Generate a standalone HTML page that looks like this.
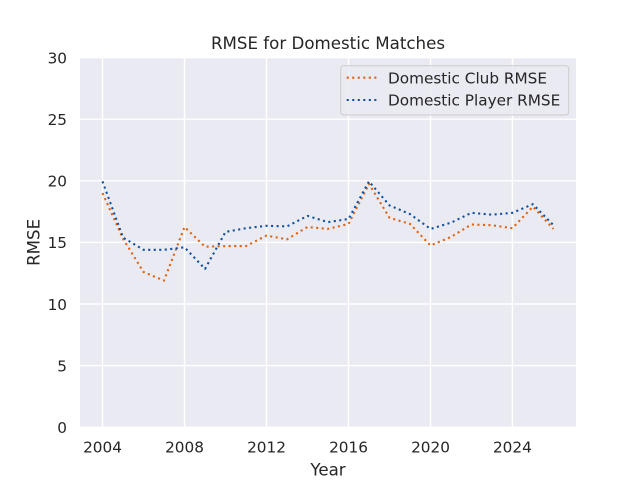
<!DOCTYPE html>
<html><head><meta charset="utf-8"><style>
html,body{margin:0;padding:0;background:#fff;}
svg{display:block;}
text{font-family:"DejaVu Sans","Liberation Sans",sans-serif;fill:#262626;}
</style></head><body>
<svg width="640" height="480" viewBox="0 0 640 480" xmlns="http://www.w3.org/2000/svg">
<rect x="0" y="0" width="640" height="480" fill="#ffffff"/>
<rect x="80" y="57.6" width="496" height="369.6" fill="#eaeaf2"/>
<g stroke="#ffffff" stroke-width="1.39">
<line x1="102.5" y1="57.6" x2="102.5" y2="427.2"/>
<line x1="184.5" y1="57.6" x2="184.5" y2="427.2"/>
<line x1="266.5" y1="57.6" x2="266.5" y2="427.2"/>
<line x1="348.5" y1="57.6" x2="348.5" y2="427.2"/>
<line x1="430.5" y1="57.6" x2="430.5" y2="427.2"/>
<line x1="512.4" y1="57.6" x2="512.4" y2="427.2"/>
<line x1="80" y1="427.2" x2="576" y2="427.2"/>
<line x1="80" y1="365.6" x2="576" y2="365.6"/>
<line x1="80" y1="304.0" x2="576" y2="304.0"/>
<line x1="80" y1="242.4" x2="576" y2="242.4"/>
<line x1="80" y1="180.8" x2="576" y2="180.8"/>
<line x1="80" y1="119.2" x2="576" y2="119.2"/>
<line x1="80" y1="57.6" x2="576" y2="57.6"/>
</g>
<g fill="none" stroke-width="2.08" stroke-dasharray="2.08 3.44" stroke-linejoin="round">
<polyline stroke="#e0620f" points="102.5,193.1 123.0,238.7 143.5,272.0 164.0,280.6 184.5,227.0 205.0,246.7 225.5,246.1 246.0,246.1 266.5,235.6 287.0,239.3 307.5,227.0 328.0,228.9 348.5,223.9 369.0,183.9 389.5,217.8 410.0,223.9 430.5,245.5 451.0,236.9 471.4,224.5 491.9,225.2 512.4,228.2 532.9,206.7 553.4,228.9"/>
<polyline stroke="#0d50a0" points="102.5,181.4 123.0,237.5 143.5,249.8 164.0,249.8 184.5,247.3 205.0,268.9 225.5,231.9 246.0,228.2 266.5,225.8 287.0,226.4 307.5,215.9 328.0,222.1 348.5,219.0 369.0,181.4 389.5,205.4 410.0,214.1 430.5,228.9 451.0,222.7 471.4,212.8 491.9,214.7 512.4,212.8 532.9,204.2 553.4,225.2"/>
</g>
<g font-size="15.28" text-anchor="end">
<text x="67" y="433">0</text>
<text x="67" y="371.4">5</text>
<text x="67" y="309.8">10</text>
<text x="67" y="248.2">15</text>
<text x="67" y="186.6">20</text>
<text x="67" y="125">25</text>
<text x="67" y="63.4">30</text>
</g>
<g font-size="15.28" text-anchor="middle">
<text x="102.5" y="452.3">2004</text>
<text x="184.5" y="452.3">2008</text>
<text x="266.5" y="452.3">2012</text>
<text x="348.5" y="452.3">2016</text>
<text x="430.5" y="452.3">2020</text>
<text x="512.4" y="452.3">2024</text>
</g>
<text x="328" y="475.5" font-size="16.67" text-anchor="middle">Year</text>
<text transform="translate(39.5,242.4) rotate(-90)" font-size="16.67" text-anchor="middle">RMSE</text>
<text x="328" y="49" font-size="16.67" text-anchor="middle">RMSE for Domestic Matches</text>
<rect x="340.7" y="65.7" width="228" height="49.3" rx="3" ry="3" fill="#eaeaf2" fill-opacity="0.8" stroke="#cccccc" stroke-width="1"/>
<g fill="none" stroke-width="2.08" stroke-dasharray="2.08 3.44">
<line x1="346.7" y1="77.7" x2="376.7" y2="77.7" stroke="#e0620f"/>
<line x1="346.7" y1="100" x2="376.7" y2="100" stroke="#0d50a0"/>
</g>
<g font-size="15.28">
<text x="388" y="83.3">Domestic Club RMSE</text>
<text x="388" y="105.5">Domestic Player RMSE</text>
</g>
</svg>
</body></html>
